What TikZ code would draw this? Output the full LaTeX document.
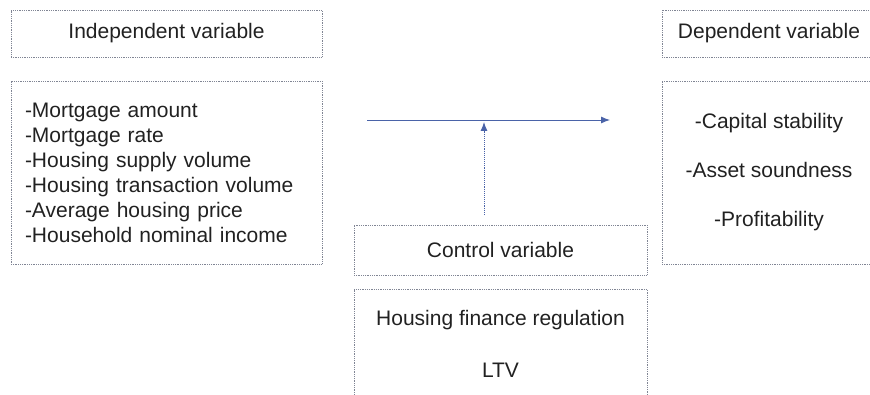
\documentclass[tikz,border=0pt]{standalone}
\usepackage{fontspec}
\setmainfont{Liberation Sans}
\usepackage{xcolor}
\usepackage{tikz}
\usetikzlibrary{arrows.meta}
\definecolor{rim}{rgb}{0.50, 0.52, 0.58}
\definecolor{azul}{rgb}{0.29, 0.39, 0.66}
\definecolor{tinta}{rgb}{0.13, 0.13, 0.13}

\begin{document}
\begin{tikzpicture}[x = 1pt, y = -1pt,
	box/.style = {draw = rim, densely dotted, line width = 0.8pt, inner sep = 0pt, text = tinta, font = \fontsize{21}{25}\selectfont},
	link/.style = {-{Latex[length = 9pt, width = 7pt]}, azul, line width = 0.9pt}]
						\useasboundingbox (0,0) rectangle (870,395);
						\node[box, minimum width = 311, minimum height = 47] (indep) at (166.5, 33.5) {Independent variable};
						\node[box, minimum width = 311, minimum height = 183, text width = 283, align = left] (indeplist) at (166.5, 172.5) {-Mortgage amount\\-Mortgage rate\\-Housing supply volume\\-Housing transaction volume\\-Average housing price\\-Household nominal income};
						\node[box, minimum width = 214, minimum height = 47] (dep) at (769, 33.5) {Dependent variable};
						\node[box, minimum width = 214, minimum height = 183, align = center, font = \fontsize{21}{49}\selectfont] (deplist) at (769, 172.5) {-Capital stability\\-Asset soundness\\-Profitability};
						\node[box, minimum width = 293, minimum height = 50] (ctl) at (500.5, 250) {Control variable};
						\node[box, minimum width = 293, minimum height = 110, align = center, font = \fontsize{21}{52}\selectfont] (ctllist) at (500.5, 344) {Housing finance regulation\\LTV};
						\coordinate (from) at (367, 120);
						\coordinate (to) at (610, 120);
						\coordinate (mid) at (484, 122);
						\coordinate (up) at (484, 215);
						\draw[link] (from) -- (to);
						\draw[link, densely dotted] (up) -- (mid);
					\end{tikzpicture}
\end{document}
